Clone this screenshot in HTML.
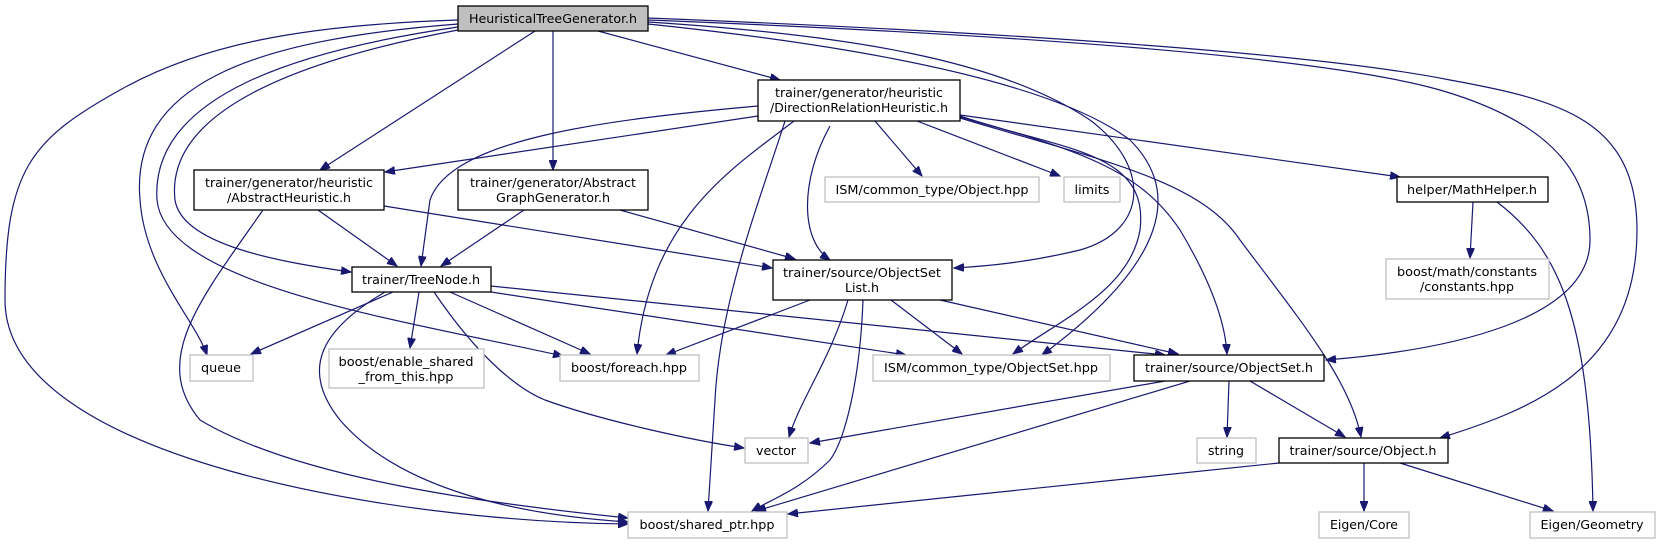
<!DOCTYPE html>
<html><head><meta charset="utf-8"><style>
html,body{margin:0;padding:0;background:#fff;}
svg text{font-family:"DejaVu Sans Condensed","DejaVu Sans","Liberation Sans",sans-serif;font-size:12.5px;fill:#000;text-anchor:middle;}
.e{fill:none;stroke:#191970;stroke-width:1.2;}
.n{fill:#fff;stroke:#000;stroke-width:1.3;}
.g{fill:#fff;stroke:#bfbfbf;stroke-width:1.3;}
</style></head><body>
<svg width="1660" height="544" viewBox="0 0 1660 544" xmlns="http://www.w3.org/2000/svg">
<defs><marker id="a" markerWidth="11" markerHeight="8" refX="10" refY="4" orient="auto" markerUnits="userSpaceOnUse"><path d="M0,0 L10,4 L0,8 z" fill="#191970" stroke="#191970"/></marker></defs>
<g class="e" marker-end="url(#a)">
<!-- HTG -->
<path d="M598,31 L780,80"/>
<path d="M535,31 L320,170"/>
<path d="M553,31 L553,170"/>
<path d="M458,30 C300,60 165,110 175,200 C182,245 280,262 351,272"/>
<path d="M458,27 C300,50 150,95 157,200 C165,285 400,320 563,356"/>
<path d="M458,24 C250,40 130,85 140,200 C145,270 195,320 207,355"/>
<path d="M458,20 C300,25 200,45 120,90 C30,140 5,170 5,300 C5,460 400,522 628,524"/>
<path d="M648,22 C850,35 1000,60 1090,120 C1150,165 1150,230 1080,250 C1030,262 990,266 954,268"/>
<path d="M648,24 C850,45 1050,80 1130,140 C1180,190 1170,260 1042,355"/>
<path d="M648,20 C900,30 1300,50 1440,90 C1560,125 1590,180 1590,240 C1590,320 1450,350 1326,360"/>
<path d="M648,18 C950,30 1300,50 1450,80 C1560,100 1637,120 1637,230 C1637,370 1530,410 1440,438"/>
<!-- DRH -->
<path d="M758,116 L385,172"/>
<path d="M758,106 C600,120 450,140 430,200 L421,266"/>
<path d="M794,121 C730,170 650,220 637,354"/>
<path d="M785,121 C760,200 720,300 715,400 L708,511"/>
<path d="M830,126 C800,180 800,240 830,260"/>
<path d="M875,121 L922,176"/>
<path d="M917,121 L1060,176"/>
<path d="M960,115 L1400,177"/>
<path d="M960,116 C1060,150 1150,150 1140,230 C1130,290 1060,320 1013,354"/>
<path d="M960,117 C1080,150 1140,170 1180,230 C1210,280 1225,320 1227,354"/>
<path d="M960,118 C1100,160 1200,180 1240,240 C1300,320 1350,380 1361,437"/>
<!-- AH -->
<path d="M318,210 L397,266"/>
<path d="M384,206 L772,268"/>
<path d="M263,210 C200,300 150,360 200,420 C300,480 500,505 628,518"/>
<!-- AGG -->
<path d="M524,210 L441,266"/>
<path d="M620,210 L795,259"/>
<!-- TreeNode -->
<path d="M393,292 L251,354"/>
<path d="M419,292 L410,348"/>
<path d="M450,292 L590,354"/>
<path d="M434,292 C480,360 520,390 545,400 C600,420 690,440 744,448"/>
<path d="M385,292 C320,330 300,370 340,420 C400,490 520,515 628,522"/>
<path d="M491,292 L906,355"/>
<path d="M491,286 L1165,355"/>
<!-- OSL -->
<path d="M810,300 L666,355"/>
<path d="M848,300 C830,360 800,400 789,437"/>
<path d="M863,300 C860,380 845,440 830,460 C800,490 770,500 752,511"/>
<path d="M891,300 L962,354"/>
<path d="M940,300 L1178,354"/>
<!-- MathHelper -->
<path d="M1473,202 L1470,258"/>
<path d="M1497,202 C1560,250 1590,320 1593,511"/>
<!-- ObjectSet.h -->
<path d="M1165,381 L810,443"/>
<path d="M1190,381 L756,511"/>
<path d="M1229,381 L1227,437"/>
<path d="M1250,381 L1345,437"/>
<!-- Object.h -->
<path d="M1279,463 L788,514"/>
<path d="M1364,463 L1364,511"/>
<path d="M1400,463 L1553,511"/>
</g>
<!-- nodes -->
<rect x="458" y="6" width="190" height="25" fill="#bfbfbf" stroke="#000" stroke-width="1.3"/>
<text x="553" y="23" textLength="168" lengthAdjust="spacingAndGlyphs">HeuristicalTreeGenerator.h</text>

<rect class="n" x="758" y="80" width="202" height="41"/>
<text x="859" y="97" textLength="168" lengthAdjust="spacingAndGlyphs">trainer/generator/heuristic</text>
<text x="859" y="112" textLength="178" lengthAdjust="spacingAndGlyphs">/DirectionRelationHeuristic.h</text>

<rect class="n" x="194" y="170" width="190" height="40"/>
<text x="289" y="187" textLength="168" lengthAdjust="spacingAndGlyphs">trainer/generator/heuristic</text>
<text x="289" y="202" textLength="124" lengthAdjust="spacingAndGlyphs">/AbstractHeuristic.h</text>

<rect class="n" x="458" y="170" width="190" height="40"/>
<text x="553" y="187" textLength="166" lengthAdjust="spacingAndGlyphs">trainer/generator/Abstract</text>
<text x="553" y="202" textLength="114" lengthAdjust="spacingAndGlyphs">GraphGenerator.h</text>

<rect class="n" x="352" y="267" width="139" height="25"/>
<text x="421" y="284" textLength="118" lengthAdjust="spacingAndGlyphs">trainer/TreeNode.h</text>

<rect class="n" x="773" y="260" width="179" height="40"/>
<text x="862" y="277" textLength="158" lengthAdjust="spacingAndGlyphs">trainer/source/ObjectSet</text>
<text x="862" y="292" textLength="34" lengthAdjust="spacingAndGlyphs">List.h</text>

<rect class="g" x="825" y="177" width="214" height="25"/>
<text x="932" y="194" textLength="193" lengthAdjust="spacingAndGlyphs">ISM/common_type/Object.hpp</text>

<rect class="g" x="1064" y="177" width="56" height="25"/>
<text x="1092" y="194" textLength="35" lengthAdjust="spacingAndGlyphs">limits</text>

<rect class="n" x="1397" y="177" width="151" height="25"/>
<text x="1472" y="194" textLength="130" lengthAdjust="spacingAndGlyphs">helper/MathHelper.h</text>

<rect class="g" x="1386" y="259" width="163" height="40"/>
<text x="1467" y="276" textLength="140" lengthAdjust="spacingAndGlyphs">boost/math/constants</text>
<text x="1467" y="291" textLength="94" lengthAdjust="spacingAndGlyphs">/constants.hpp</text>

<rect class="g" x="190" y="355" width="63" height="26"/>
<text x="221" y="372" textLength="40" lengthAdjust="spacingAndGlyphs">queue</text>

<rect class="g" x="329" y="349" width="155" height="39"/>
<text x="406" y="366" textLength="135" lengthAdjust="spacingAndGlyphs">boost/enable_shared</text>
<text x="406" y="381" textLength="95" lengthAdjust="spacingAndGlyphs">_from_this.hpp</text>

<rect class="g" x="560" y="355" width="139" height="26"/>
<text x="629" y="372" textLength="116" lengthAdjust="spacingAndGlyphs">boost/foreach.hpp</text>

<rect class="g" x="873" y="355" width="237" height="26"/>
<text x="991" y="372" textLength="214" lengthAdjust="spacingAndGlyphs">ISM/common_type/ObjectSet.hpp</text>

<rect class="n" x="1134" y="355" width="190" height="26"/>
<text x="1229" y="372" textLength="168" lengthAdjust="spacingAndGlyphs">trainer/source/ObjectSet.h</text>

<rect class="g" x="745" y="438" width="63" height="25"/>
<text x="776" y="455" textLength="40" lengthAdjust="spacingAndGlyphs">vector</text>

<rect class="g" x="1197" y="438" width="59" height="25"/>
<text x="1226" y="455" textLength="36" lengthAdjust="spacingAndGlyphs">string</text>

<rect class="n" x="1279" y="438" width="169" height="25"/>
<text x="1363" y="455" textLength="147" lengthAdjust="spacingAndGlyphs">trainer/source/Object.h</text>

<rect class="g" x="628" y="512" width="159" height="26"/>
<text x="707" y="529" textLength="135" lengthAdjust="spacingAndGlyphs">boost/shared_ptr.hpp</text>

<rect class="g" x="1319" y="512" width="90" height="26"/>
<text x="1364" y="529" textLength="68" lengthAdjust="spacingAndGlyphs">Eigen/Core</text>

<rect class="g" x="1530" y="512" width="125" height="26"/>
<text x="1592" y="529" textLength="103" lengthAdjust="spacingAndGlyphs">Eigen/Geometry</text>
</svg>
</body></html>
